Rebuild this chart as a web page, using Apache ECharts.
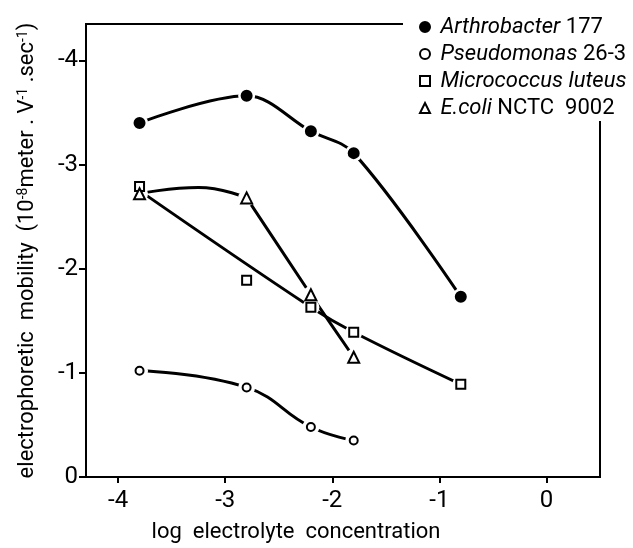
<!DOCTYPE html>
<html>
<head>
<meta charset="utf-8">
<script src="https://cdn.jsdelivr.net/npm/echarts@6/dist/echarts.min.js"></script>
<style>
  html, body { margin: 0; padding: 0; background: #fff; }
  #main { width: 633px; height: 548px; }
</style>
</head>
<body>
<div id="main"></div>
<script>
// log electrolyte concentration
var xConc = [-3.8, -2.8, -2.2, -1.8, -0.8];

// electrophoretic mobility (10^-8 m/V/s)
var arthroY = [-3.40, -3.66, -3.32, -3.11, -1.73];
var pseudoX = [-3.8, -2.8, -2.2, -1.8];
var pseudoY = [-1.02, -0.86, -0.48, -0.35];
var microY = [-2.79, -1.89, -1.63, -1.39, -0.89];
var ecoliX = [-3.8, -2.8, -2.2, -1.8];
var ecoliY = [-2.72, -2.68, -1.75, -1.15];

// hand drawn curves
var microTrendX = [-3.8, -2.2, -1.8, -0.8];   // skips the -2.8 point
var microTrendY = [-2.75, -1.63, -1.39, -0.89];
var ecoliArcX = [-3.8, -3.25, -2.8];           // bow over the first two points
var ecoliArcY = [-2.72, -2.78, -2.68];
var ecoliDropX = [-2.8, -2.2, -1.8];
var ecoliDropY = [-2.68, -1.75, -1.15];

var tickVals = [-4, -3, -2, -1, 0];

var names = ['Arthrobacter 177', 'Pseudomonas 26-3', 'Micrococcus luteus', 'E.coli NCTC 9002'];
var namesItalic = ['Arthrobacter', 'Pseudomonas', 'Micrococcus luteus', 'E.coli'];
var namesPlain = ['177', '26-3', '', 'NCTC  9002'];

function pairs(xs, ys) {
  return xs.map(function (x, i) { return [x, ys[i]]; });
}

var chart = echarts.init(document.getElementById('main'));

var groups = [
  { name: names[0], pts: pairs(xConc, arthroY), curves: [[pairs(xConc, arthroY), 0.35]], symbol: 'circle', size: 10 },
  { name: names[1], pts: pairs(pseudoX, pseudoY), curves: [[pairs(pseudoX, pseudoY), 0.45]], symbol: 'emptyCircle', size: 8 },
  { name: names[2], pts: pairs(xConc, microY), curves: [[pairs(microTrendX, microTrendY), 0.4]], symbol: 'emptyRect', size: 9 },
  { name: names[3], pts: pairs(ecoliX, ecoliY),
    curves: [[pairs(ecoliArcX, ecoliArcY), 0.5], [pairs(ecoliDropX, ecoliDropY), 0.15]],
    symbol: 'emptyTriangle', size: 11 }
];

var series = [];
groups.forEach(function (g) {
  g.curves.forEach(function (c, k) {
    series.push({
      name: g.name + ' curve ' + k,
      type: 'line',
      data: c[0],
      smooth: c[1],
      showSymbol: false,
      silent: true,
      z: 1,
      lineStyle: { color: '#000', width: 3 }
    });
  });
  // white halo so the line stops short of the marker
  series.push({
    name: g.name + ' halo',
    type: 'scatter',
    data: g.pts,
    symbol: 'circle',
    symbolSize: 17,
    silent: true,
    z: 2,
    itemStyle: { color: '#fff', opacity: 1 }
  });
  series.push({
    name: g.name,
    type: 'scatter',
    data: g.pts,
    symbol: g.symbol,
    symbolSize: g.size,
    z: 3,
    itemStyle: { color: '#000', borderColor: '#000', borderWidth: 2, opacity: 1 }
  });
});

var font = 'Roboto, "DejaVu Sans", sans-serif';

chart.setOption({
  animation: false,
  backgroundColor: '#fff',
  grid: {
    left: 86, right: 33, top: 24, bottom: 70,
    show: true,
    borderColor: '#000',
    borderWidth: 2
  },
  legend: {
    data: names,
    orient: 'vertical',
    left: 403,
    top: 0,
    padding: [16, 10, 2, 16],
    backgroundColor: '#fff',
    itemWidth: 10,
    itemHeight: 10,
    itemGap: 5,
    selectedMode: false,
    formatter: function (name) {
      var i = names.indexOf(name);
      return '{i| ' + namesItalic[i] + '}' + (namesPlain[i] ? ' ' + namesPlain[i] : '');
    },
    textStyle: {
      fontFamily: font,
      fontSize: 22,
      color: '#000',
      rich: {
        i: { fontFamily: font, fontSize: 22, fontStyle: 'italic', color: '#000' }
      }
    }
  },
  xAxis: {
    type: 'value',
    min: -4.3,
    max: 0.5,
    splitLine: { show: false },
    axisLine: { onZero: false, lineStyle: { color: '#000', width: 2 } },
    axisTick: { customValues: tickVals, length: 6, lineStyle: { color: '#000', width: 2 } },
    axisLabel: { customValues: tickVals, color: '#000', fontFamily: font, fontSize: 24, margin: 12 },
    name: 'log  electrolyte  concentration',
    nameLocation: 'middle',
    nameGap: 44,
    nameTextStyle: { color: '#000', fontFamily: font, fontSize: 22, padding: [0, 94, 0, 0] }
  },
  yAxis: {
    type: 'value',
    inverse: true,
    min: -4.35,
    max: 0,
    splitLine: { show: false },
    axisLine: { onZero: false, lineStyle: { color: '#000', width: 2 } },
    axisTick: { customValues: tickVals, length: 7, lineStyle: { color: '#000', width: 2 } },
    axisLabel: { customValues: tickVals, color: '#000', fontFamily: font, fontSize: 24, margin: 8 },
    name: 'electrophoretic  mobility  (10{sup|-8}meter . V{sup|-1} .sec{sup|-1})',
    nameLocation: 'middle',
    nameGap: 48,
    nameTextStyle: {
      color: '#000', fontFamily: font, fontSize: 22,
      rich: {
        sup: { fontFamily: font, fontSize: 14, verticalAlign: 'top', color: '#000' }
      }
    }
  },
  series: series
});
</script>
</body>
</html>
